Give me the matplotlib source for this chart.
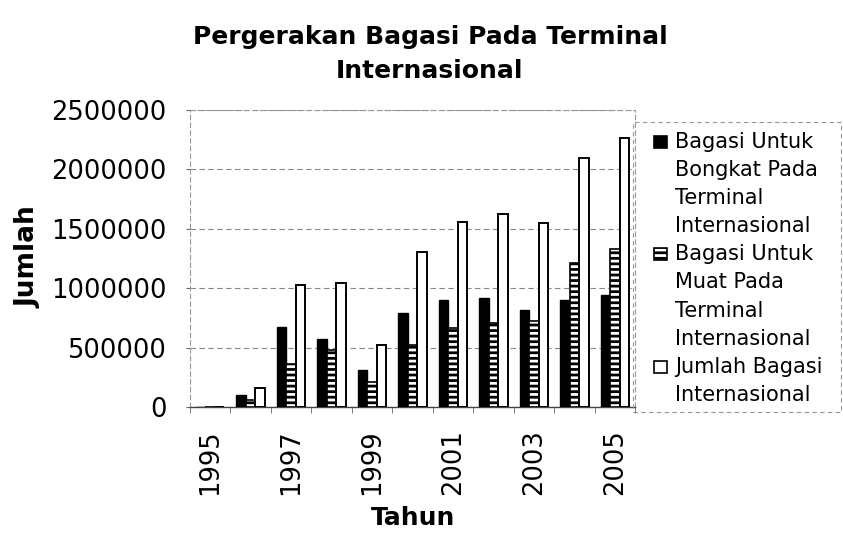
import matplotlib
matplotlib.use("Agg")
import matplotlib.pyplot as plt
import numpy as np
from matplotlib.patches import Rectangle

plt.rcParams['font.family'] = ['DejaVu Sans']
plt.rcParams['hatch.linewidth'] = 2.0

years = ['1995', '1996', '1997', '1998', '1999', '2000', '2001', '2002', '2003', '2004', '2005']
bongkat = [0, 98000, 675000, 571000, 314000, 790000, 902000, 916000, 818000, 902000, 944000]
muat = [0, 62000, 361000, 482000, 207000, 518000, 664000, 711000, 725000, 1216000, 1328000]
jumlah = [0, 157000, 1025000, 1042000, 518000, 1308000, 1560000, 1622000, 1546000, 2098000, 2266000]
series_labels = [
    ['Bagasi Untuk', 'Bongkat Pada', 'Terminal', 'Internasional'],
    ['Bagasi Untuk', 'Muat Pada', 'Terminal', 'Internasional'],
    ['Jumlah Bagasi', 'Internasional'],
]
yticks = [0, 500000, 1000000, 1500000, 2000000, 2500000]

W, H = 843, 533
fig = plt.figure(figsize=(W / 100, H / 100), dpi=100)
ax = fig.add_axes([190 / W, 1 - 407 / H, 445 / W, 297 / H])

x = np.arange(len(years))
bw = 0.235
ax.bar(x - bw, bongkat, bw, color='black', edgecolor='black', linewidth=1.0, zorder=3)
ax.bar(x, muat, bw, color='white', edgecolor='black', hatch='---', linewidth=1.2, zorder=3)
ax.bar(x + bw, jumlah, bw, color='white', edgecolor='black', linewidth=1.4, zorder=3)

ax.set_xlim(-0.46, 10.5)
ax.set_ylim(0, 2500000)
ax.set_yticks(yticks)
ax.set_yticklabels([str(v) for v in yticks], fontsize=18.5)
ax.tick_params(axis='y', length=3, pad=14, color='#666666')

ax.set_xticks(x[::2])
ax.set_xticklabels(years[::2], rotation=90, fontsize=18.5)
ax.tick_params(axis='x', which='major', length=0, pad=16)
ax.set_xticks(np.arange(len(years) + 1) - 0.5, minor=True)
ax.tick_params(axis='x', which='minor', length=4, color='#666666')

ax.yaxis.grid(True, linestyle=(0, (5, 3)), color='#888888', linewidth=0.8, zorder=0)
for s in ['left', 'top', 'right']:
    ax.spines[s].set_color('#999999')
    ax.spines[s].set_linestyle((0, (4, 3)))
    ax.spines[s].set_linewidth(0.8)
ax.spines['bottom'].set_color('#444444')
ax.spines['bottom'].set_linewidth(1.0)

# Title and axis labels
fig.text(430 / W, 1 - 54 / H, 'Pergerakan Bagasi Pada Terminal\nInternasional',
         ha='center', va='center', fontsize=18, fontweight='bold', linespacing=1.5)
fig.text(29 / W, 1 - 257 / H, 'Jumlah', rotation=90, ha='center', va='center',
         fontsize=19, fontweight='bold')
fig.text(413 / W, 1 - 518 / H, 'Tahun', ha='center', va='center',
         fontsize=18, fontweight='bold')

# Custom legend
fig.patches.append(Rectangle((633 / W, 1 - 412 / H), (841 - 633) / W, (412 - 122) / H,
                             transform=fig.transFigure, facecolor='none', edgecolor='#999999',
                             linestyle=(0, (4, 3)), linewidth=0.8))
styles = [dict(facecolor='black', edgecolor='black'),
          dict(facecolor='white', edgecolor='black', hatch='---'),
          dict(facecolor='white', edgecolor='black')]
line_y0, dy = 142, 28.1
k = 0
for lab, st in zip(series_labels, styles):
    yc = line_y0 + k * dy
    fig.patches.append(Rectangle((654 / W, 1 - (yc + 6) / H), 13 / W, 12 / H,
                                 transform=fig.transFigure, linewidth=1.2, **st))
    for line in lab:
        fig.text(675 / W, 1 - (line_y0 + k * dy) / H, line, ha='left', va='center', fontsize=15)
        k += 1

fig.savefig('out.png', dpi=100)
